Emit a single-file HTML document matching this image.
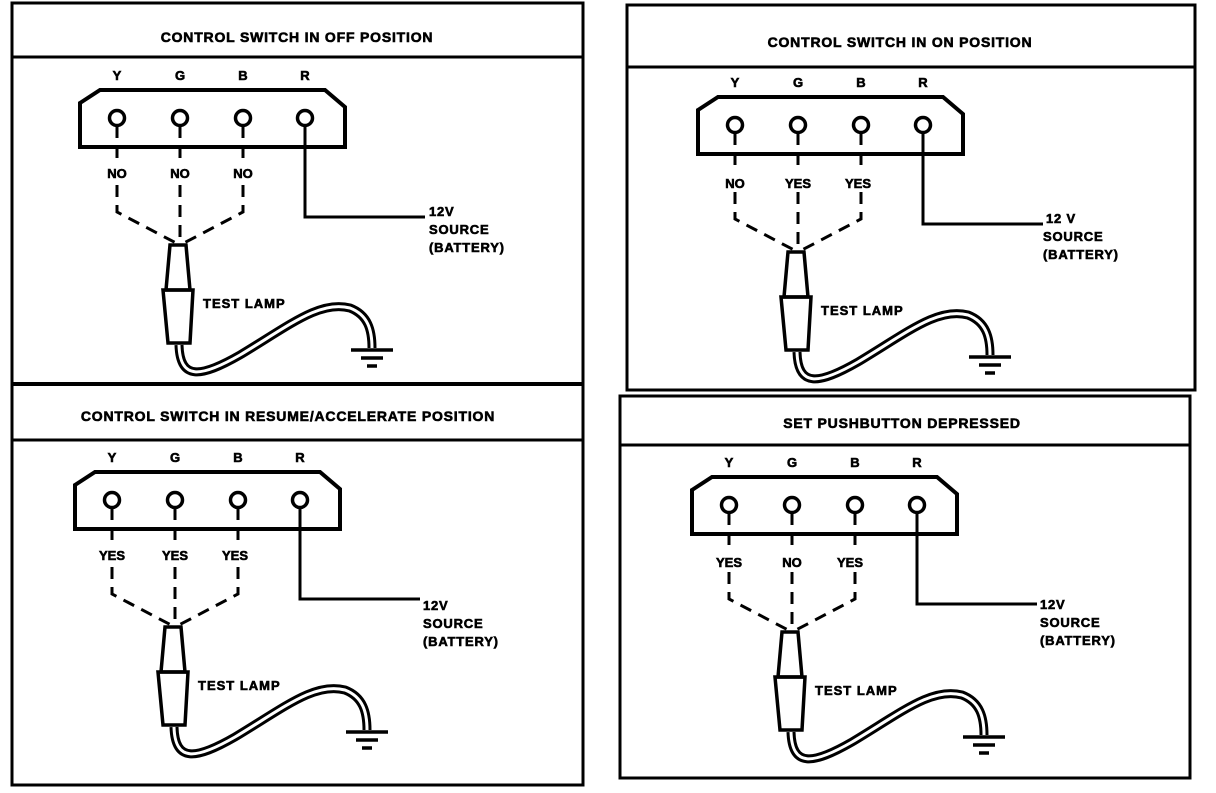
<!DOCTYPE html>
<html><head><style>
body{margin:0;background:#fff}
svg text{font-family:"Liberation Sans",sans-serif;font-weight:bold;fill:#000;stroke:#000;stroke-width:0.6}
</style></head><body>
<svg width="1216" height="788" viewBox="0 0 1216 788" xmlns="http://www.w3.org/2000/svg">
<defs>
<g id="base" fill="none" stroke="#000">
  <text x="117" y="80" font-size="13" text-anchor="middle">Y</text>
  <text x="180" y="80" font-size="13" text-anchor="middle">G</text>
  <text x="243" y="80" font-size="13" text-anchor="middle">B</text>
  <text x="305" y="80" font-size="13" text-anchor="middle">R</text>
  <path d="M80 103 L100 90 L325 90 L345 107 L345 147 L80 147 Z" stroke-width="4"/>
  <g stroke-width="3.5">
    <circle cx="117" cy="118" r="7.5"/><circle cx="180" cy="118" r="7.5"/>
    <circle cx="243" cy="118" r="7.5"/><circle cx="305" cy="118" r="7.5"/>
  </g>
  <g stroke-width="3" stroke-dasharray="12,8">
    <path d="M117 126 L117 160"/><path d="M180 126 L180 160"/><path d="M243 126 L243 160"/>
    <path d="M117 185 L117 212 L176 243"/><path d="M180 185 L180 243"/><path d="M243 185 L243 212 L184 243"/>
  </g>
  <path d="M305 126 L305 217 L425 217" stroke-width="3"/>
  <path d="M170 245 L186 245 L190 290 L166 290 Z" stroke-width="3.5"/>
  <path d="M163 290 L193 290 L190 343 L168 343 Z" stroke-width="3.5"/>
  <path d="M179 345 C180 380 200 378 240 355 C290 325 320 300 350 308 C368 315 372 330 372 348" stroke-width="9"/>
  <path d="M179 345 C180 380 200 378 240 355 C290 325 320 300 350 308 C368 315 372 330 372 348" stroke="#fff" stroke-width="3"/>
  <path d="M351 350 L393 350 M361 358 L383 358 M367 366 L377 366" stroke-width="3.5"/>
  <text x="203" y="308" font-size="13" letter-spacing="1">TEST LAMP</text>
</g>
</defs>
<g fill="none" stroke="#000" stroke-width="3">
  <rect x="12" y="3" width="571" height="782"/>
  <line x1="12" y1="57" x2="583" y2="57"/>
  <line x1="12" y1="384" x2="583" y2="384" stroke-width="4"/>
  <line x1="12" y1="440" x2="583" y2="440"/>
  <rect x="627" y="5" width="568" height="385"/>
  <line x1="627" y1="67" x2="1195" y2="67"/>
  <rect x="620" y="396" width="570" height="382"/>
  <line x1="620" y1="445" x2="1190" y2="445"/>
</g>
<g font-size="14" letter-spacing="0.8">
  <text x="297" y="42" text-anchor="middle">CONTROL SWITCH IN OFF POSITION</text>
  <text x="900" y="47" text-anchor="middle">CONTROL SWITCH IN ON POSITION</text>
  <text x="288" y="421" text-anchor="middle">CONTROL SWITCH IN RESUME/ACCELERATE POSITION</text>
  <text x="902" y="428" text-anchor="middle">SET PUSHBUTTON DEPRESSED</text>
</g>
<g>
  <use href="#base"/>
  <g font-size="13" text-anchor="middle"><text x="117" y="178">NO</text><text x="180" y="178">NO</text><text x="243" y="178">NO</text></g>
  <g font-size="13" letter-spacing="0.8"><text x="429" y="216">12V</text><text x="429" y="234">SOURCE</text><text x="429" y="252">(BATTERY)</text></g>
</g>
<g transform="translate(618,7)">
  <use href="#base"/>
  <g font-size="13" text-anchor="middle"><text x="117" y="181">NO</text><text x="180" y="181">YES</text><text x="240" y="181">YES</text></g>
  <g font-size="13" letter-spacing="0.8"><text x="428" y="216">12 V</text><text x="425" y="234">SOURCE</text><text x="425" y="252">(BATTERY)</text></g>
</g>
<g transform="translate(-5,382)">
  <use href="#base"/>
  <g font-size="13" text-anchor="middle"><text x="117" y="178">YES</text><text x="180" y="178">YES</text><text x="240" y="178">YES</text></g>
  <g font-size="13" letter-spacing="0.8"><text x="428" y="228">12V</text><text x="428" y="246">SOURCE</text><text x="428" y="264">(BATTERY)</text></g>
</g>
<g transform="translate(612,387)">
  <use href="#base"/>
  <g font-size="13" text-anchor="middle"><text x="117" y="180">YES</text><text x="180" y="180">NO</text><text x="238" y="180">YES</text></g>
  <g font-size="13" letter-spacing="0.8"><text x="428" y="222">12V</text><text x="428" y="240">SOURCE</text><text x="428" y="258">(BATTERY)</text></g>
</g>
</svg>
</body></html>
